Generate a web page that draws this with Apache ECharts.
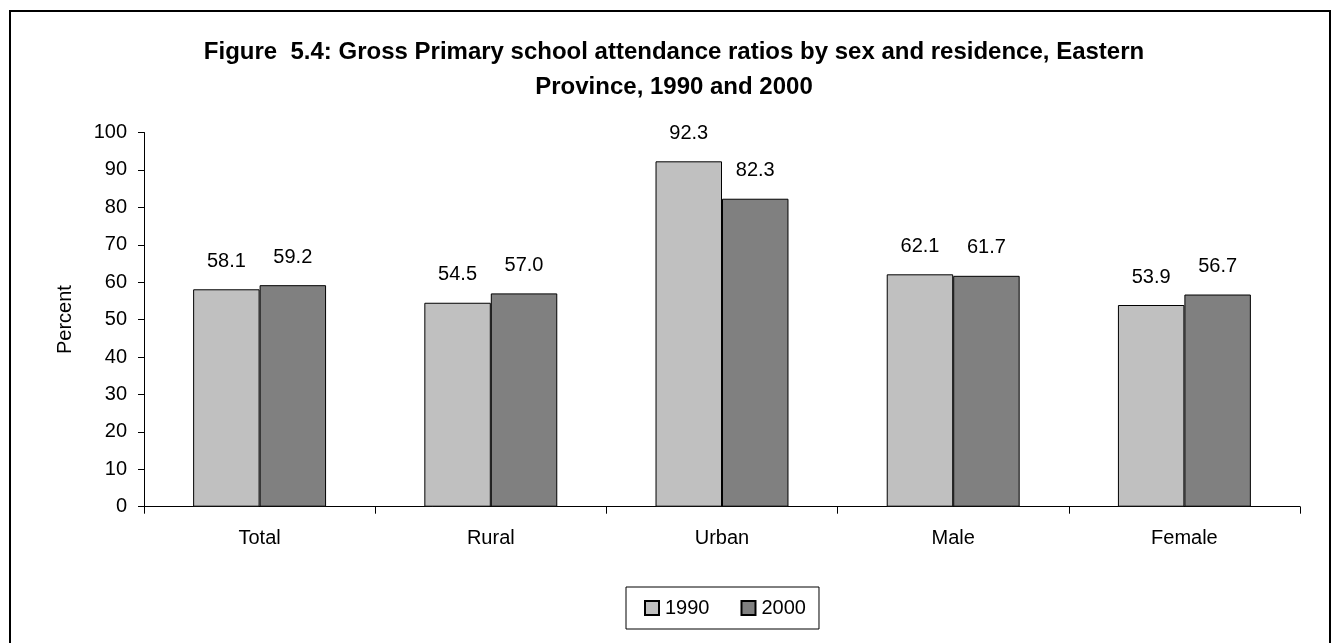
<!DOCTYPE html>
<html>
<head>
<meta charset="utf-8">
<style>
  html, body { margin: 0; padding: 0; background: #fff; }
  #chart { width: 1333px; height: 643px; }
</style>
<script src="https://cdn.jsdelivr.net/npm/echarts@6/dist/echarts.min.js"></script>
</head>
<body>
<div id="chart"></div>
<script>
// Gross primary school attendance ratios, Eastern Province
const categories = ['Total', 'Rural', 'Urban', 'Male', 'Female'];
const values1990 = [58.1, 54.5, 92.3, 62.1, 53.9];
const values2000 = [59.2, 57.0, 82.3, 61.7, 56.7];
const seriesNames = ['1990', '2000'];
const yTicks = { min: 0, max: 100, interval: 10 };

const FONT = 'Liberation Sans, Arial, sans-serif';

const chart = echarts.init(document.getElementById('chart'), null, { renderer: 'canvas' });

const labelStyle = {
  show: true,
  position: 'top',
  distance: 18,
  color: '#000',
  fontFamily: FONT,
  fontSize: 20,
  formatter: p => p.value.toFixed(1)
};

chart.setOption({
  backgroundColor: '#fff',
  animation: false,
  title: {
    text: 'Figure  5.4: Gross Primary school attendance ratios by sex and residence, Eastern\nProvince, 1990 and 2000',
    left: 669,
    top: 30,
    textAlign: 'center',
    textStyle: {
      fontFamily: FONT,
      fontWeight: 'bold',
      fontSize: 24,
      lineHeight: 35,
      color: '#000'
    }
  },
  graphic: [{
    type: 'rect',
    shape: { x: 10, y: 11, width: 1320, height: 660 },
    style: { fill: 'none', stroke: '#000', lineWidth: 2 },
    silent: true,
    z: 100
  }],
  legend: {
    data: seriesNames,
    left: 626,
    top: 587,
    padding: [11, 13, 11, 18],
    itemGap: 31,
    itemWidth: 14,
    itemHeight: 14,
    borderColor: '#000',
    borderWidth: 1,
    icon: 'rect',
    textStyle: { fontFamily: FONT, fontSize: 20, color: '#000', padding: [0, 0, 0, 1] }
  },
  grid: {
    left: 144,
    right: 33,
    top: 132.5,
    bottom: 136.3,
    containLabel: false
  },
  xAxis: {
    type: 'category',
    data: categories,
    boundaryGap: true,
    axisLine: { lineStyle: { color: '#000', width: 1 } },
    axisTick: { show: true, alignWithLabel: false, length: 7, lineStyle: { color: '#000' } },
    axisLabel: { color: '#000', fontFamily: FONT, fontSize: 20, margin: 22 }
  },
  yAxis: {
    type: 'value',
    min: yTicks.min,
    max: yTicks.max,
    interval: yTicks.interval,
    name: 'Percent',
    nameLocation: 'middle',
    nameGap: 69,
    nameRotate: 90,
    nameTextStyle: { color: '#000', fontFamily: FONT, fontSize: 20 },
    axisLine: { show: true, lineStyle: { color: '#000', width: 1 } },
    axisTick: { show: true, length: 6, lineStyle: { color: '#000' } },
    axisLabel: { color: '#000', fontFamily: FONT, fontSize: 20, margin: 17 },
    splitLine: { show: false }
  },
  series: [
    {
      name: seriesNames[0],
      type: 'bar',
      data: values1990,
      barGap: '0%',
      barCategoryGap: '42.5%',
      itemStyle: { color: '#C0C0C0', borderColor: '#000', borderWidth: 1 },
      label: labelStyle
    },
    {
      name: seriesNames[1],
      type: 'bar',
      data: values2000,
      barGap: '0%',
      barCategoryGap: '42.5%',
      itemStyle: { color: '#808080', borderColor: '#000', borderWidth: 1 },
      label: labelStyle
    }
  ]
});
</script>
</body>
</html>
